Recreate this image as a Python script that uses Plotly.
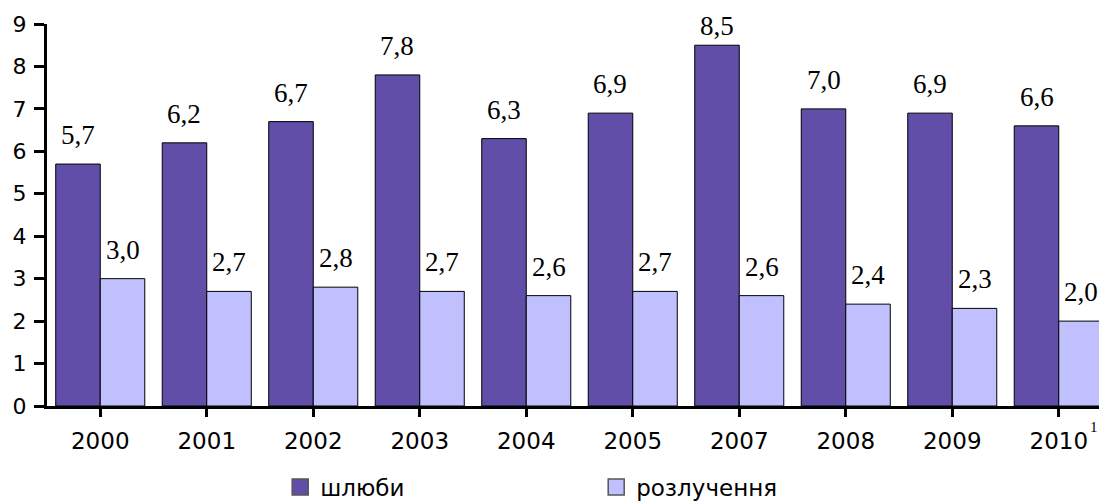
import plotly.graph_objects as go

years = ["2000", "2001", "2002", "2003", "2004", "2005", "2007", "2008", "2009", "2010"]
marriages = [5.7, 6.2, 6.7, 7.8, 6.3, 6.9, 8.5, 7.0, 6.9, 6.6]
divorces = [3.0, 2.7, 2.8, 2.7, 2.6, 2.7, 2.6, 2.4, 2.3, 2.0]
series_names = ["шлюби", "розлучення"]
footnote = "1"

dark = "#604EA8"
light = "#C0C0FF"
idx = list(range(len(years)))

fig = go.Figure()
fig.add_trace(go.Bar(x=idx, y=marriages, name=series_names[0], showlegend=False,
                     marker=dict(color=dark, line=dict(color="#000000", width=1))))
fig.add_trace(go.Bar(x=idx, y=divorces, name=series_names[1], showlegend=False,
                     marker=dict(color=light, line=dict(color="#000000", width=1))))
# legend entries with larger square swatches
for nm, col in zip(series_names, [dark, light]):
    fig.add_trace(go.Scatter(x=[None], y=[None], mode="markers", name=nm,
                             marker=dict(symbol="square", size=16, color=col,
                                         line=dict(color="#555555", width=1.5))))

bargap = 0.164
off = (1 - bargap) / 4
ymax = 9
lab_font = dict(family="Liberation Serif, Times New Roman, serif", size=27, color="#000000")


def label_shift(v):
    # labels near the top of the plot are kept inside the chart area
    return 29 if v < ymax - 0.8 else 19


for i, v in enumerate(marriages):
    fig.add_annotation(x=i - off, y=v, text=f"{v:.1f}".replace(".", ","), showarrow=False,
                       yanchor="middle", yshift=label_shift(v), font=lab_font, xref="x", yref="y")
for i, v in enumerate(divorces):
    fig.add_annotation(x=i + off, y=v, text=f"{v:.1f}".replace(".", ","), showarrow=False,
                       yanchor="middle", yshift=label_shift(v), font=lab_font, xref="x", yref="y")
fig.add_annotation(x=len(years) - 1, y=0, text=footnote, showarrow=False, xref="x", yref="y",
                   xshift=35, yshift=-21, yanchor="middle",
                   font=dict(family="Liberation Serif, serif", size=15, color="#000"))

# page body has an 8px default margin, so the figure is sized/offset to compensate
fig.update_layout(
    width=1099, height=493,
    margin=dict(l=39, r=0, t=16, b=95, autoexpand=False),
    paper_bgcolor="white", plot_bgcolor="white",
    barmode="group", bargap=bargap, bargroupgap=0,
    font=dict(family="DejaVu Sans, Liberation Sans, Arial, sans-serif", size=22, color="#000000"),
    showlegend=True,
    legend=dict(orientation="h", x=0.220, xanchor="left", y=-0.212, yanchor="middle",
                entrywidth=271, font=dict(size=23), traceorder="normal",
                bgcolor="rgba(0,0,0,0)"),
)
fig.update_xaxes(range=[-0.5, len(years) - 0.547], tickmode="array", tickvals=idx, ticktext=years,
                 showline=True, linecolor="#000", linewidth=3, ticks="outside", tickson="boundaries",
                 ticklen=8, tickwidth=3, tickcolor="#000", showgrid=False, zeroline=False,
                 tickfont=dict(size=23), ticklabelstandoff=4, automargin=False)
fig.update_yaxes(range=[0, ymax], dtick=1, showline=True, linecolor="#000", linewidth=3,
                 ticks="outside", ticklen=10, tickwidth=3, tickcolor="#000", showgrid=False,
                 zeroline=False, tickfont=dict(size=22), ticklabelstandoff=3, automargin=False)

fig.write_html("out.html")
